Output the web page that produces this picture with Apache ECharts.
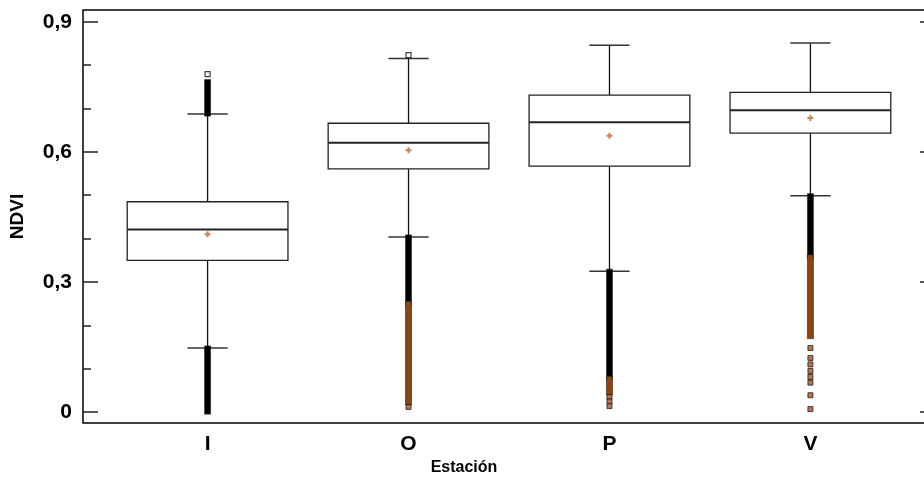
<!DOCTYPE html>
<html>
<head>
<meta charset="utf-8">
<script src="https://cdn.jsdelivr.net/npm/echarts@6/dist/echarts.min.js"></script>
<style>
  html, body { margin: 0; padding: 0; background: #fff; overflow: hidden; }
  /* the plot frame's right edge sits just outside the visible window */
  #main { width: 935px; height: 486px; }
</style>
</head>
<body>
<div id="main"></div>
<script>
// stations and box statistics (NDVI)
const stations = ["I", "O", "P", "V"];
const lowWhisker = [0.148, 0.404, 0.325, 0.499];
const q1 = [0.350, 0.561, 0.567, 0.643];
const median = [0.421, 0.621, 0.668, 0.696];
const q3 = [0.485, 0.666, 0.731, 0.737];
const highWhisker = [0.687, 0.815, 0.846, 0.851];
const means = [0.410, 0.604, 0.637, 0.678];

// dense outlier columns: [station, from, to]
const denseBlack = [
  [0, 0.687, 0.762],
  [0, 0.0, 0.148],
  [1, 0.251, 0.404],
  [2, 0.078, 0.325],
  [3, 0.358, 0.499],
];
const denseBrown = [
  [1, 0.021, 0.251],
  [2, 0.044, 0.078],
  [3, 0.174, 0.358],
];
// isolated outliers: [station, value]
const brownPoints = [
  [1, 0.012],
  [2, 0.035], [2, 0.025], [2, 0.014],
  [3, 0.148], [3, 0.125], [3, 0.11], [3, 0.095], [3, 0.081],
  [3, 0.068], [3, 0.039], [3, 0.007],
];
const hollowPoints = [
  [0, 0.779],
  [1, 0.823],
];

const yMajor = [0, 0.3, 0.6, 0.9];
const yMinor = [0.1, 0.2, 0.4, 0.5, 0.7, 0.8];
const yMin = -0.025, yMax = 0.927;

const chart = echarts.init(document.getElementById("main"));

const font = "Liberation Sans, Arial, sans-serif";
const pos = (i) => i + 1;

function renderBox(params, api) {
  const x = api.value(0);
  const half = api.size([0.4, 0])[0];
  const cap = api.size([0.1, 0])[0];
  const lo = api.coord([x, api.value(1)]);
  const b1 = api.coord([x, api.value(2)]);
  const md = api.coord([x, api.value(3)]);
  const b3 = api.coord([x, api.value(4)]);
  const hi = api.coord([x, api.value(5)]);
  const ln = { stroke: "#111", lineWidth: 1.3 };
  return {
    type: "group",
    children: [
      { type: "line", shape: { x1: lo[0], y1: lo[1], x2: b1[0], y2: b1[1] }, style: ln },
      { type: "line", shape: { x1: b3[0], y1: b3[1], x2: hi[0], y2: hi[1] }, style: ln },
      { type: "line", shape: { x1: lo[0] - cap, y1: lo[1], x2: lo[0] + cap, y2: lo[1] }, style: { stroke: "#333", lineWidth: 1.5 } },
      { type: "line", shape: { x1: hi[0] - cap, y1: hi[1], x2: hi[0] + cap, y2: hi[1] }, style: { stroke: "#333", lineWidth: 1.5 } },
      {
        type: "rect",
        shape: { x: b1[0] - half, y: b3[1], width: half * 2, height: b1[1] - b3[1] },
        style: { fill: "#fff", stroke: "#222", lineWidth: 1.3 },
      },
      { type: "line", shape: { x1: md[0] - half, y1: md[1], x2: md[0] + half, y2: md[1] }, style: { stroke: "#222", lineWidth: 2 } },
    ],
  };
}

function bandRenderer(fill) {
  return function (params, api) {
    const x = api.value(0);
    const top = api.coord([x, api.value(2)]);
    const bot = api.coord([x, api.value(1)]);
    return {
      type: "rect",
      shape: { x: top[0] - 3, y: top[1] - 2, width: 6, height: bot[1] - top[1] + 4 },
      style: { fill: fill, stroke: "#222", lineWidth: 0.6 },
    };
  };
}

const boxData = stations.map((s, i) => [pos(i), lowWhisker[i], q1[i], median[i], q3[i], highWhisker[i]]);

const options = {
  animation: false,
  grid: {
    left: 83,
    right: 0,
    top: 10,
    bottom: 63,
    show: true,
    borderColor: "#000",
    borderWidth: 1.5,
  },
  xAxis: {
    type: "value",
    min: 0.38,
    max: 4.62,
    name: "Estación",
    nameLocation: "middle",
    nameGap: 37,
    nameTextStyle: { fontFamily: font, fontSize: 16, fontWeight: "bold", color: "#000", padding: [0, 90, 0, 0] },
    axisLine: { show: false },
    axisTick: { show: false },
    splitLine: { show: false },
    axisLabel: {
      customValues: stations.map((s, i) => pos(i)),
      formatter: (v) => stations[Math.round(v) - 1] || "",
      fontFamily: font,
      fontSize: 21,
      fontWeight: "bold",
      color: "#000",
      margin: 11,
    },
  },
  yAxis: [
    {
      type: "value",
      position: "left",
      min: yMin,
      max: yMax,
      name: "NDVI",
      nameLocation: "middle",
      nameGap: 56,
      nameTextStyle: { fontFamily: font, fontSize: 19, fontWeight: "bold", color: "#000" },
      axisLine: { show: false },
      splitLine: { show: false },
      axisTick: { show: true, inside: true, length: 15, customValues: yMajor, lineStyle: { color: "#222", width: 1.5 } },
      axisLabel: {
        customValues: yMajor,
        formatter: (v) => String(Math.round(v * 10) / 10).replace(".", ","),
        fontFamily: font,
        fontSize: 21,
        fontWeight: "bold",
        color: "#000",
        margin: 11,
      },
    },
    {
      type: "value",
      position: "left",
      min: yMin,
      max: yMax,
      axisLine: { show: false },
      splitLine: { show: false },
      axisLabel: { show: false },
      axisTick: { show: true, inside: true, length: 8, customValues: yMinor, lineStyle: { color: "#222", width: 1.5 } },
    },
    {
      type: "value",
      position: "right",
      min: yMin,
      max: yMax,
      axisLine: { show: false },
      splitLine: { show: false },
      axisLabel: { show: false },
      axisTick: { show: true, inside: true, length: 15, customValues: yMajor, lineStyle: { color: "#222", width: 1.5 } },
    },
  ],
  series: [
    {
      type: "custom",
      name: "box",
      renderItem: renderBox,
      data: boxData,
      z: 2,
    },
    {
      type: "custom",
      name: "outliers",
      renderItem: bandRenderer("#000"),
      data: denseBlack.map((d) => [pos(d[0]), d[1], d[2]]),
      z: 3,
    },
    {
      type: "custom",
      name: "far outliers",
      renderItem: bandRenderer("#8b4513"),
      data: denseBrown.map((d) => [pos(d[0]), d[1], d[2]]),
      z: 3,
    },
    {
      type: "scatter",
      symbol: "rect",
      symbolSize: 5,
      itemStyle: { color: "#a0522d", borderColor: "#222", borderWidth: 1 },
      data: brownPoints.map((d) => [pos(d[0]), d[1]]),
      z: 4,
    },
    {
      type: "scatter",
      symbol: "rect",
      symbolSize: 5,
      itemStyle: { color: "#fff", borderColor: "#111", borderWidth: 1.2 },
      data: hollowPoints.map((d) => [pos(d[0]), d[1]]),
      z: 4,
    },
    {
      type: "scatter",
      symbol: "path://M2,0H4V2H6V4H4V6H2V4H0V2H2Z",
      symbolSize: 6,
      itemStyle: { color: "#b5652a" },
      data: means.map((m, i) => [pos(i), m]),
      z: 5,
    },
  ],
};

chart.setOption(options);
</script>
</body>
</html>
